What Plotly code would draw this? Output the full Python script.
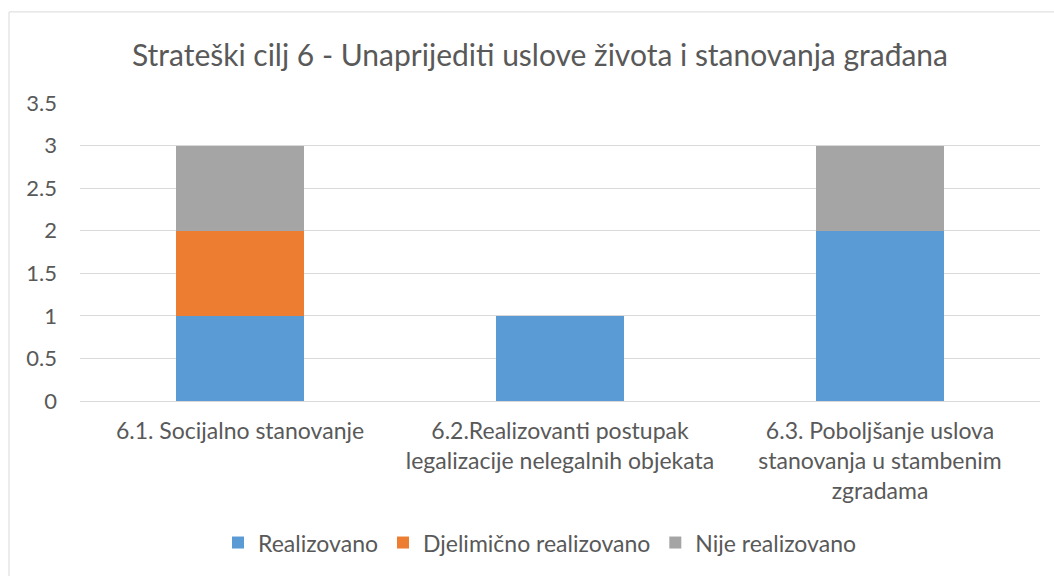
import plotly.graph_objects as go

categories = [
    "6.1. Socijalno stanovanje",
    "6.2.Realizovanti postupak<br>legalizacije nelegalnih objekata",
    "6.3. Poboljšanje uslova<br>stanovanja u stambenim<br>zgradama",
]
realizovano = [1, 1, 2]
djelimicno = [1, 0, 0]
nije = [1, 0, 1]

series = [
    ("Realizovano", realizovano, "#5B9BD5"),
    ("Djelimično realizovano", djelimicno, "#ED7D31"),
    ("Nije realizovano", nije, "#A5A5A5"),
]

FONT = "Lato"
TXT = "#595959"
FS = 23

fig = go.Figure()
for name, vals, col in series:
    fig.add_trace(go.Bar(name=name, x=categories, y=vals, marker=dict(color=col, line=dict(width=0))))

fig.update_layout(
    barmode="stack",
    bargap=0.6,
    width=1054,
    height=576,
    margin=dict(l=80, r=14, t=103, b=172),
    paper_bgcolor="white",
    plot_bgcolor="white",
    font=dict(family=FONT, color=TXT, size=FS),
    title=dict(
        text="Strateški cilj 6 - Unaprijediti uslove života i stanovanja građana",
        x=540 / 1054, xanchor="center", y=1 - 55 / 576, yanchor="middle",
        font=dict(family=FONT, size=30, color=TXT),
    ),
    xaxis=dict(
        showgrid=False, showline=False, ticks="", ticklabelstandoff=14,
        tickfont=dict(size=FS, color=TXT),
    ),
    yaxis=dict(
        range=[0, 3.5], dtick=0.5, showgrid=True, gridcolor="#D9D9D9", gridwidth=1,
        zeroline=True, zerolinecolor="#D9D9D9", zerolinewidth=1,
        showline=False, ticks="", ticklabelstandoff=22,
        tickfont=dict(size=22, color=TXT),
    ),
    legend=dict(
        orientation="h", x=(540 - 80) / 960, xanchor="center", y=(404 - 547) / 301, yanchor="middle",
        font=dict(size=FS, color=TXT), traceorder="normal",
        itemwidth=30,
    ),
    showlegend=True,
)

fig.add_shape(
    type="rect", xref="paper", yref="paper",
    x0=(9 - 80) / 960, x1=(1090 - 80) / 960,
    y0=(404 - 620) / 301, y1=(404 - 11) / 301,
    line=dict(color="#D9D9D9", width=1), fillcolor="rgba(0,0,0,0)", layer="below",
)

fig.write_html(
    "out.html",
    config={"displayModeBar": False},
    post_script="document.body.style.margin='0';document.body.style.overflow='hidden';",
)
